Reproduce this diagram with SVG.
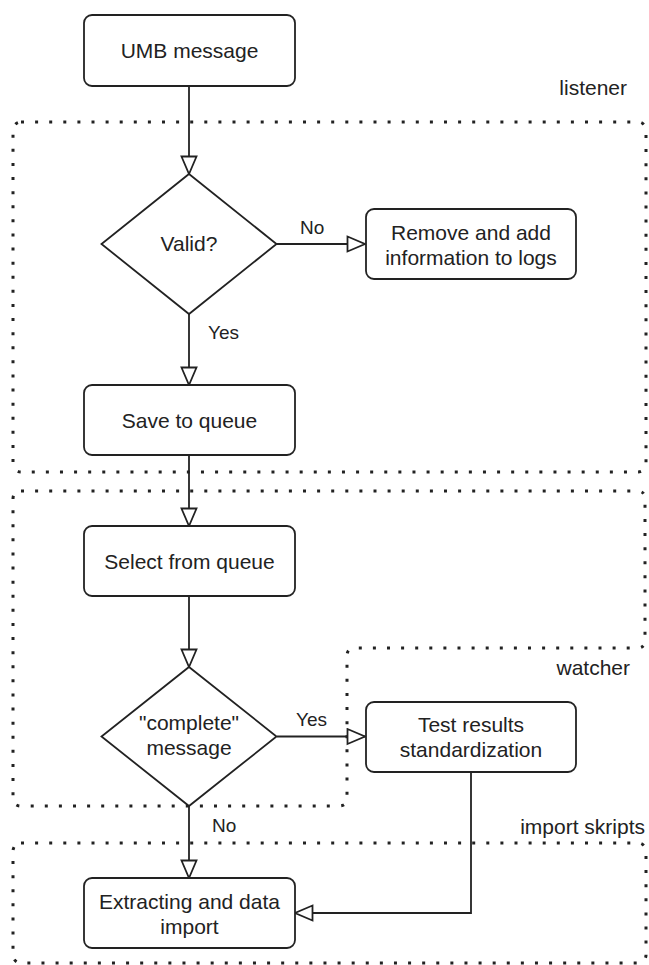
<svg xmlns="http://www.w3.org/2000/svg" width="649" height="965" viewBox="0 0 649 965">
<style>
.node{fill:#fff;stroke:#222;stroke-width:1.8}
.cont{fill:none;stroke:#222;stroke-width:3;stroke-dasharray:3 11.1}
.edge{fill:none;stroke:#222;stroke-width:1.8}
text{font-family:"Liberation Sans",Arial,sans-serif;fill:#222}
.t{font-size:21px;text-anchor:middle}
.c{font-size:21px;text-anchor:end}
.l{font-size:19px;text-anchor:start}
</style>
<defs>
<marker id="arr" markerUnits="userSpaceOnUse" markerWidth="22" markerHeight="20" refX="19" refY="9" orient="auto" viewBox="0 0 22 20">
<path d="M1.5 1.5 L19 9 L1.5 16.5 Z" fill="#fff" stroke="#222" stroke-width="1.8"/>
</marker>
</defs>
<g id="containers">
<g id="listener">
<rect class="cont" x="13" y="122" width="633" height="350" rx="8"/>
<text class="c" x="627" y="94.5">listener</text>
</g>
<g id="watcher">
<path class="cont" d="M21 491 H637 Q645 491 645 499 V640 Q645 648 637 648 H355 Q347 648 347 656 V798 Q347 806 339 806 H21 Q13 806 13 798 V499 Q13 491 21 491 Z"/>
<text class="c" x="630" y="674.5">watcher</text>
</g>
<g id="import-skripts">
<rect class="cont" x="13" y="843" width="633" height="120" rx="8"/>
<text class="c" x="645" y="834">import skripts</text>
</g>
</g>
<g id="connectors">
<path class="edge" d="M189 86 V174" marker-end="url(#arr)"/>
<path class="edge" d="M277 244 H365" marker-end="url(#arr)"/>
<path class="edge" d="M189 314 V385" marker-end="url(#arr)"/>
<path class="edge" d="M189 455 V526" marker-end="url(#arr)"/>
<path class="edge" d="M189 596 V667" marker-end="url(#arr)"/>
<path class="edge" d="M277 736.5 H365" marker-end="url(#arr)"/>
<path class="edge" d="M189 806 V878" marker-end="url(#arr)"/>
<path class="edge" d="M471 772 V913 H295" marker-end="url(#arr)"/>
<text class="l" x="300" y="234">No</text>
<text class="l" x="208" y="339">Yes</text>
<text class="l" x="296" y="726">Yes</text>
<text class="l" x="212" y="832">No</text>
</g>
<g id="umb-message">
<rect class="node" x="84" y="15" width="211" height="71" rx="8"/>
<text class="t" x="189.5" y="58">UMB message</text>
</g>
<g id="valid">
<path class="node" d="M189 174 L276.5 244 L189 314 L101.5 244 Z"/>
<text class="t" x="189" y="251">Valid?</text>
</g>
<g id="remove">
<rect class="node" x="366" y="209" width="210" height="70" rx="8"/>
<text class="t" x="471" y="240">Remove and add</text>
<text class="t" x="471" y="264.5">information to logs</text>
</g>
<g id="save">
<rect class="node" x="84" y="385" width="211" height="70" rx="8"/>
<text class="t" x="189.5" y="427.5">Save to queue</text>
</g>
<g id="select">
<rect class="node" x="84" y="526" width="211" height="70" rx="8"/>
<text class="t" x="189.5" y="568.5">Select from queue</text>
</g>
<g id="complete">
<path class="node" d="M189 667 L276.5 736.5 L189 806 L101.5 736.5 Z"/>
<text class="t" x="189" y="729.5">"complete"</text>
<text class="t" x="189" y="754.5">message</text>
</g>
<g id="test-results">
<rect class="node" x="366" y="702" width="210" height="70" rx="8"/>
<text class="t" x="471" y="732">Test results</text>
<text class="t" x="471" y="757">standardization</text>
</g>
<g id="extracting">
<rect class="node" x="84" y="878" width="211" height="70" rx="8"/>
<text class="t" x="189.5" y="909">Extracting and data</text>
<text class="t" x="189.5" y="934">import</text>
</g>
</svg>
